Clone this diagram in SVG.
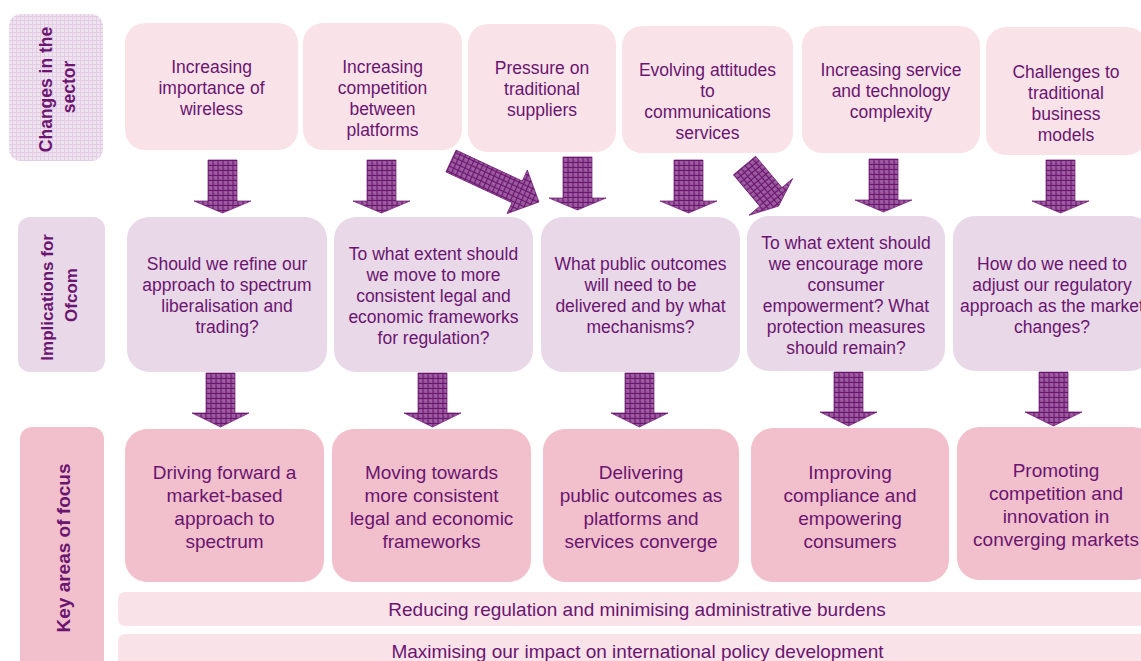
<svg xmlns="http://www.w3.org/2000/svg" xmlns:xlink="http://www.w3.org/1999/xlink" width="1141" height="661" viewBox="0 0 1141 661">
  <style>
    .t { font-family: "Liberation Sans", Arial, sans-serif; fill: #6b1470; text-anchor: middle; }
    .s { font-size: 17.5px; }
    .l { font-size: 19px; }
    .lab { font-family: "Liberation Sans", Arial, sans-serif; fill: #6b1470; text-anchor: middle; font-weight: bold; }
    .change { fill: #f9e3e9; }
    .impl { fill: #e8d8e8; }
    .focus { fill: #f1c0cc; }
    .bar { fill: #f9e3e9; }
    .arrow { fill: url(#hatch); stroke: #6b1470; stroke-width: 0.7; }
  </style>
  <defs>
    <!-- cross-hatched fill for the block arrows -->
    <pattern id="hatch" width="5" height="5" patternUnits="userSpaceOnUse">
      <rect width="5" height="5" fill="#98589c"/>
      <path d="M0,0.5H5M0.5,0V5" stroke="#6b1470" stroke-width="1"/>
      <rect x="2.5" y="2.5" width="1" height="1" fill="#b482b6"/>
      <rect x="1.5" y="3.5" width="1" height="1" fill="#7a287e"/>
    </pattern>
    <!-- fine grid behind the first row label -->
    <pattern id="grid" width="4" height="4" patternUnits="userSpaceOnUse">
      <rect width="4" height="4" fill="#efe3f0"/>
      <path d="M0,0.5H4M0.5,0V4" stroke="#e2cce6" stroke-width="1"/>
    </pattern>
    <path id="arrowTop" d="M-14.5,0H14.5V41H28.5L0,53L-28.5,41H-14.5Z"/>
    <path id="arrowMid" d="M-14.5,0H14.5V40H28.5L0,54L-28.5,40H-14.5Z"/>
  </defs>

  <rect width="1141" height="661" fill="#ffffff"/>

  <!-- row labels -->
  <g id="label-changes">
    <rect x="9" y="14" width="94" height="147" rx="12" fill="url(#grid)"/>
    <text class="lab" font-size="17.5" transform="translate(0,87) rotate(-90)">
      <tspan x="0" y="52">Changes in the</tspan>
      <tspan x="0" y="75">sector</tspan>
    </text>
  </g>
  <g id="label-implications">
    <rect x="18" y="217" width="87" height="155" rx="12" class="impl"/>
    <text class="lab" font-size="17" transform="translate(0,295) rotate(-90)">
      <tspan x="0" y="53">Implications for</tspan>
      <tspan x="0" y="77">Ofcom</tspan>
    </text>
  </g>
  <g id="label-focus">
    <rect x="20" y="427" width="84" height="250" rx="12" class="focus"/>
    <text class="lab" font-size="19" transform="translate(0,548) rotate(-90)" x="0" y="69.5">Key areas of focus</text>
  </g>

  <!-- changes in the sector -->
  <g id="change-wireless">
    <rect x="125" y="23" width="173" height="127" rx="20" class="change"/>
    <text class="t s"><tspan x="211.5" y="72.5">Increasing</tspan><tspan x="211.5" y="93.5">importance of</tspan><tspan x="211.5" y="114.5">wireless</tspan></text>
  </g>
  <g id="change-platforms">
    <rect x="303" y="23" width="159" height="127" rx="20" class="change"/>
    <text class="t s"><tspan x="382.5" y="72.5">Increasing</tspan><tspan x="382.5" y="93.5">competition</tspan><tspan x="382.5" y="114.5">between</tspan><tspan x="382.5" y="135.5">platforms</tspan></text>
  </g>
  <g id="change-suppliers">
    <rect x="468" y="24" width="148" height="128" rx="20" class="change"/>
    <text class="t s"><tspan x="542" y="74">Pressure on</tspan><tspan x="542" y="95">traditional</tspan><tspan x="542" y="116">suppliers</tspan></text>
  </g>
  <g id="change-attitudes">
    <rect x="622" y="26" width="171" height="127" rx="20" class="change"/>
    <text class="t s"><tspan x="707.5" y="75.5">Evolving attitudes</tspan><tspan x="707.5" y="96.5">to</tspan><tspan x="707.5" y="117.5">communications</tspan><tspan x="707.5" y="138.5">services</tspan></text>
  </g>
  <g id="change-complexity">
    <rect x="802" y="26" width="178" height="127" rx="20" class="change"/>
    <text class="t s"><tspan x="891" y="75.5">Increasing service</tspan><tspan x="891" y="96.5">and technology</tspan><tspan x="891" y="117.5">complexity</tspan></text>
  </g>
  <g id="change-business">
    <rect x="986" y="27" width="161" height="128" rx="20" class="change"/>
    <text class="t s"><tspan x="1066" y="77.5">Challenges to</tspan><tspan x="1066" y="98.5">traditional</tspan><tspan x="1066" y="119.5">business</tspan><tspan x="1066" y="140.5">models</tspan></text>
  </g>

  <!-- implications for Ofcom -->
  <g id="impl-spectrum">
    <rect x="127" y="217" width="200" height="155" rx="22" class="impl"/>
    <text class="t s"><tspan x="227" y="270">Should we refine our</tspan><tspan x="227" y="291">approach to spectrum</tspan><tspan x="227" y="312">liberalisation and</tspan><tspan x="227" y="333">trading?</tspan></text>
  </g>
  <g id="impl-frameworks">
    <rect x="334" y="217" width="199" height="155" rx="22" class="impl"/>
    <text class="t s"><tspan x="433.5" y="259.5">To what extent should</tspan><tspan x="433.5" y="280.5">we move to more</tspan><tspan x="433.5" y="301.5">consistent legal and</tspan><tspan x="433.5" y="322.5">economic frameworks</tspan><tspan x="433.5" y="343.5">for regulation?</tspan></text>
  </g>
  <g id="impl-outcomes">
    <rect x="541" y="217" width="199" height="155" rx="22" class="impl"/>
    <text class="t s"><tspan x="640.5" y="270">What public outcomes</tspan><tspan x="640.5" y="291">will need to be</tspan><tspan x="640.5" y="312">delivered and by what</tspan><tspan x="640.5" y="333">mechanisms?</tspan></text>
  </g>
  <g id="impl-consumers">
    <rect x="747" y="216" width="198" height="155" rx="22" class="impl"/>
    <text class="t s"><tspan x="846" y="249">To what extent should</tspan><tspan x="846" y="270">we encourage more</tspan><tspan x="846" y="291">consumer</tspan><tspan x="846" y="312">empowerment? What</tspan><tspan x="846" y="333">protection measures</tspan><tspan x="846" y="354">should remain?</tspan></text>
  </g>
  <g id="impl-market">
    <rect x="953" y="216" width="199" height="155" rx="22" class="impl"/>
    <text class="t s"><tspan x="1052" y="270">How do we need to</tspan><tspan x="1052" y="291">adjust our regulatory</tspan><tspan x="1052" y="312">approach as the market</tspan><tspan x="1052" y="333">changes?</tspan></text>
  </g>

  <!-- key areas of focus -->
  <g id="focus-spectrum">
    <rect x="125" y="429" width="199" height="153" rx="22" class="focus"/>
    <text class="t l"><tspan x="224.5" y="478.5">Driving forward a</tspan><tspan x="224.5" y="501.5">market-based</tspan><tspan x="224.5" y="524.5">approach to</tspan><tspan x="224.5" y="547.5">spectrum</tspan></text>
  </g>
  <g id="focus-frameworks">
    <rect x="332" y="429" width="199" height="153" rx="22" class="focus"/>
    <text class="t l"><tspan x="431.5" y="478.5">Moving towards</tspan><tspan x="431.5" y="501.5">more consistent</tspan><tspan x="431.5" y="524.5">legal and economic</tspan><tspan x="431.5" y="547.5">frameworks</tspan></text>
  </g>
  <g id="focus-outcomes">
    <rect x="543" y="429" width="196" height="153" rx="22" class="focus"/>
    <text class="t l"><tspan x="641" y="478.5">Delivering</tspan><tspan x="641" y="501.5">public outcomes as</tspan><tspan x="641" y="524.5">platforms and</tspan><tspan x="641" y="547.5">services converge</tspan></text>
  </g>
  <g id="focus-consumers">
    <rect x="751" y="428" width="198" height="154" rx="22" class="focus"/>
    <text class="t l"><tspan x="850" y="478.5">Improving</tspan><tspan x="850" y="501.5">compliance and</tspan><tspan x="850" y="524.5">empowering</tspan><tspan x="850" y="547.5">consumers</tspan></text>
  </g>
  <g id="focus-competition">
    <rect x="957" y="427" width="198" height="153" rx="22" class="focus"/>
    <text class="t l"><tspan x="1056" y="477">Promoting</tspan><tspan x="1056" y="500">competition and</tspan><tspan x="1056" y="523">innovation in</tspan><tspan x="1056" y="546">converging markets</tspan></text>
  </g>

  <!-- cross-cutting themes -->
  <g id="bar-regulation">
    <rect x="118" y="592" width="1030" height="34" rx="7" class="bar"/>
    <text class="t l" x="637" y="616">Reducing regulation and minimising administrative burdens</text>
  </g>
  <g id="bar-international">
    <rect x="118" y="634" width="1030" height="40" rx="7" class="bar"/>
    <text class="t l" x="637.5" y="658">Maximising our impact on international policy development</text>
  </g>

  <!-- connectors -->
  <g id="connectors" class="arrow">
    <use xlink:href="#arrowTop" transform="translate(222.5,160)"/>
    <use xlink:href="#arrowTop" transform="translate(381.5,160)"/>
    <path d="M0,-12H73V-24L97,0L73,24V12H0Z" transform="translate(451,161) rotate(25)"/>
    <use xlink:href="#arrowTop" transform="translate(577.5,157)"/>
    <use xlink:href="#arrowTop" transform="translate(688.5,160)"/>
    <use xlink:href="#arrowTop" transform="translate(744.5,165.5) rotate(-40)"/>
    <use xlink:href="#arrowTop" transform="translate(883.5,159)"/>
    <use xlink:href="#arrowTop" transform="translate(1060.5,160)"/>

    <use xlink:href="#arrowMid" transform="translate(220.5,373)"/>
    <use xlink:href="#arrowMid" transform="translate(432.5,373)"/>
    <use xlink:href="#arrowMid" transform="translate(639.5,373)"/>
    <use xlink:href="#arrowMid" transform="translate(848.5,372)"/>
    <use xlink:href="#arrowMid" transform="translate(1053.5,372)"/>
  </g>
</svg>
